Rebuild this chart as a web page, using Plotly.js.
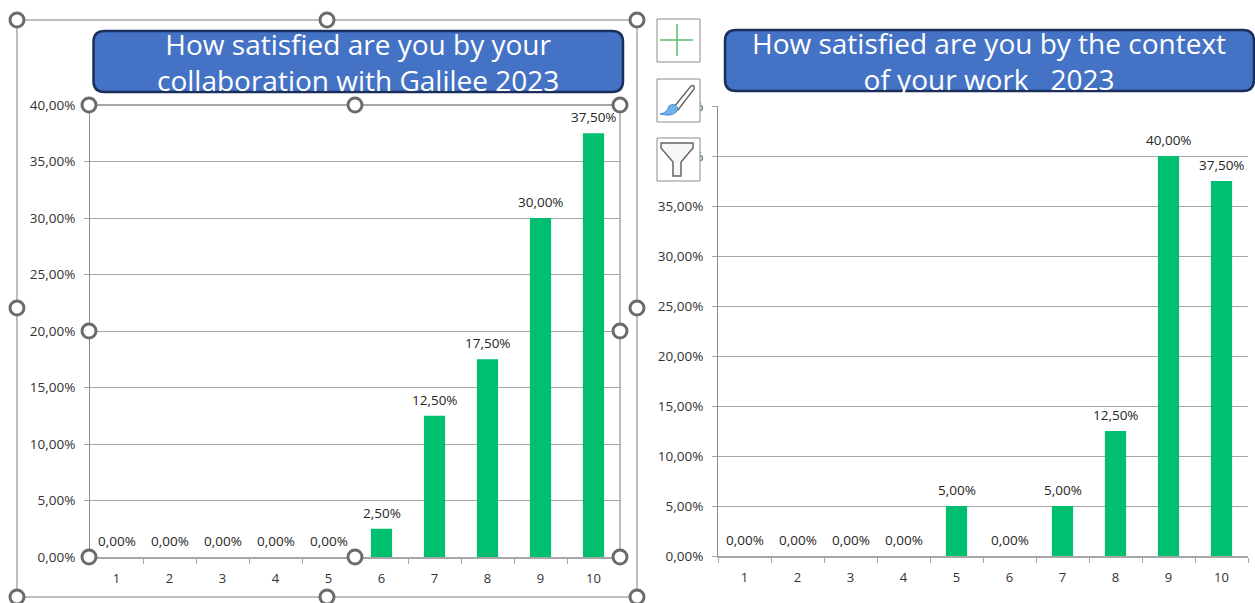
<!DOCTYPE html>
<html><head><meta charset="utf-8">
<script src="https://cdn.plot.ly/plotly-3.0.1.min.js"></script>
<style>html,body{margin:0;padding:0;background:#fff}#c{width:1255px;height:603px}</style></head>
<body><div id="c"></div>
<script>
const categories = ['1','2','3','4','5','6','7','8','9','10'];
const collaboration2023 = [0,0,0,0,0,0.025,0.125,0.175,0.30,0.375];
const context2023 = [0,0,0,0,0.05,0,0.05,0.125,0.40,0.375];
const leftTitle = 'How satisfied are you by your<br>collaboration with Galilee 2023';
const rightTitle = 'How satisfied are you by the context<br>of your work \u00a0 2023';

const W = 1255, H = 603;
const px = x => x / W, py = y => 1 - y / H;
const FONT = '"Open Sans", sans-serif';
const GREY = '#a6a6a6', TXT = '#333333', GREEN = '#00c070';

function bars(y, xa, ya) {
  return {type:'bar', x:categories, y:y, xaxis:xa, yaxis:ya, width:0.4,
    marker:{color:GREEN}, hoverinfo:'skip', showlegend:false};
}
function labels(y, xa, ya) {
  return y.map((v,i)=>({xref:xa, yref:ya, x:i, y:v, yanchor:'bottom', xanchor:'center', yshift:5, showarrow:false,
    text:(v*100).toFixed(2).replace('.',',')+'%', font:{family:FONT,size:13.5,color:'#262626'}}));
}
function xAxis(d, anchor) {
  return {domain:d, anchor:anchor, type:'category', categoryorder:'array', categoryarray:categories, range:[-0.5,9.5],
    tickson:'boundaries', ticks:'outside', ticklen:5, tickcolor:GREY,
    showline:true, linecolor:GREY, linewidth:2, showgrid:false, zeroline:false, ticklabelstandoff:8,
    tickfont:{family:FONT,size:13,color:TXT}};
}
function yAxis(d, anchor, top) {
  return {domain:d, anchor:anchor, range:[0,top], dtick:0.05, tickformat:'.2%', ticks:'outside', ticklen:5, tickcolor:GREY,
    showline:true, linecolor:'#8c8c8c', linewidth:1, showgrid:true, gridcolor:GREY, gridwidth:1, zeroline:false, ticklabelstandoff:6,
    tickfont:{family:FONT,size:13.5,color:TXT}};
}
function path(cmds, o) {
  const d = cmds.map(c => typeof c === 'string' ? c : px(c[0]) + ',' + py(c[1])).join(' ')
    .replace(/([MLQCZ]) /g,'$1').replace(/ ([MLQCZ])/g,' $1');
  return Object.assign({type:'path', xref:'paper', yref:'paper', path:d, layer:'above'}, o);
}
function rrect(x0,y0,x1,y1,r,fill,lc,lw) {
  return path(['M',[x0+r,y0],'L',[x1-r,y0],'Q',[x1,y0],[x1,y0+r],'L',[x1,y1-r],'Q',[x1,y1],[x1-r,y1],
    'L',[x0+r,y1],'Q',[x0,y1],[x0,y1-r],'L',[x0,y0+r],'Q',[x0,y0],[x0+r,y0],'Z'],
    {fillcolor:fill,line:{color:lc,width:lw}});
}
function rect(x0,y0,x1,y1,fill,lc,lw) {
  return {type:'rect',xref:'paper',yref:'paper',x0:px(x0),x1:px(x1),y0:py(y0),y1:py(y1),layer:'above',
    fillcolor:fill,line:{color:lc,width:lw}};
}
function seg(x0,y0,x1,y1,c,w) {
  return {type:'line',xref:'paper',yref:'paper',x0:px(x0),x1:px(x1),y0:py(y0),y1:py(y1),layer:'above',line:{color:c,width:w}};
}
function handle(x,y) {
  const r=7;
  return {type:'circle',xref:'paper',yref:'paper',x0:px(x-r),x1:px(x+r),y0:py(y-r),y1:py(y+r),layer:'above',
    fillcolor:'#fff',line:{color:'#6b6b6b',width:3}};
}
const none='rgba(0,0,0,0)';
const shapes = [
  rect(17,20,637,597,none,'#7f7f7f',1),
  seg(620,105,620,557,GREY,1.5),
  seg(90,105,620,105,GREY,2),
  rrect(93.5,31,623,92,11,'#4472c4','#1a2f5c',2.5),
  rrect(725,30,1254,91,11,'#4472c4','#1a2f5c',2.5),
  rect(657,19,700,62,'#fff','#8c8c8c',1),
  seg(677,24,677,56,'#5cb870',1.5), seg(660,40,693,40,'#5cb870',1.5),
  rect(657,79,700,122,'#fff','#8c8c8c',1),
  path(['M',[674,107],'L',[691,86],'Q',[695,84],[694,89],'L',[678,110],'Z'],{fillcolor:'#fff',line:{color:'#666',width:1.5}}),
  path(['M',[660,114],'Q',[667,113],[669,106],'Q',[674,102],[678,108],'Q',[676,118],[660,114],'Z'],{fillcolor:'#6fb1e8',line:{color:'#4a90d0',width:1}}),
  rect(657,138,700,181,'#fff','#8c8c8c',1),
  path(['M',[661,143],'L',[693,143],'L',[693,148],'L',[681,162],'L',[681,176],'L',[673,176],'L',[673,162],'L',[661,148],'Z'],{fillcolor:'#f7f7f7',line:{color:'#666',width:1.5}})
];
[[17,20],[327,20],[637,20],[17,308],[637,308],[17,597],[327,597],[637,597],
 [89,105],[355,105],[620,105],[89,331],[620,331],[89,557],[355,557],[620,557]].forEach(p=>shapes.push(handle(p[0],p[1])));

function title(text,x,y){
  return {text:text,xref:'paper',yref:'paper',x:px(x),y:py(y),xanchor:'center',yanchor:'middle',showarrow:false,
    align:'center',font:{family:FONT,size:28,color:'#fff'}};
}
Plotly.newPlot('c',[bars(collaboration2023,'x','y'),bars(context2023,'x2','y2')],{
  width:W,height:H,margin:{l:0,r:0,t:0,b:0},paper_bgcolor:'#fff',plot_bgcolor:'#fff',
  separators:',.',bargap:0.6,
  xaxis:xAxis([px(90),px(620)],'y'),
  yaxis:yAxis([py(557),py(105)],'x',0.4),
  xaxis2:xAxis([px(718),px(1248)],'y2'),
  yaxis2:yAxis([py(556),py(106)],'x2',0.45),
  shapes:shapes,
  annotations:[title(leftTitle,358,62),title(rightTitle,989,61)]
    .concat(labels(collaboration2023,'x','y'),labels(context2023,'x2','y2'))
},{staticPlot:true,displayModeBar:false});
</script></body></html>
